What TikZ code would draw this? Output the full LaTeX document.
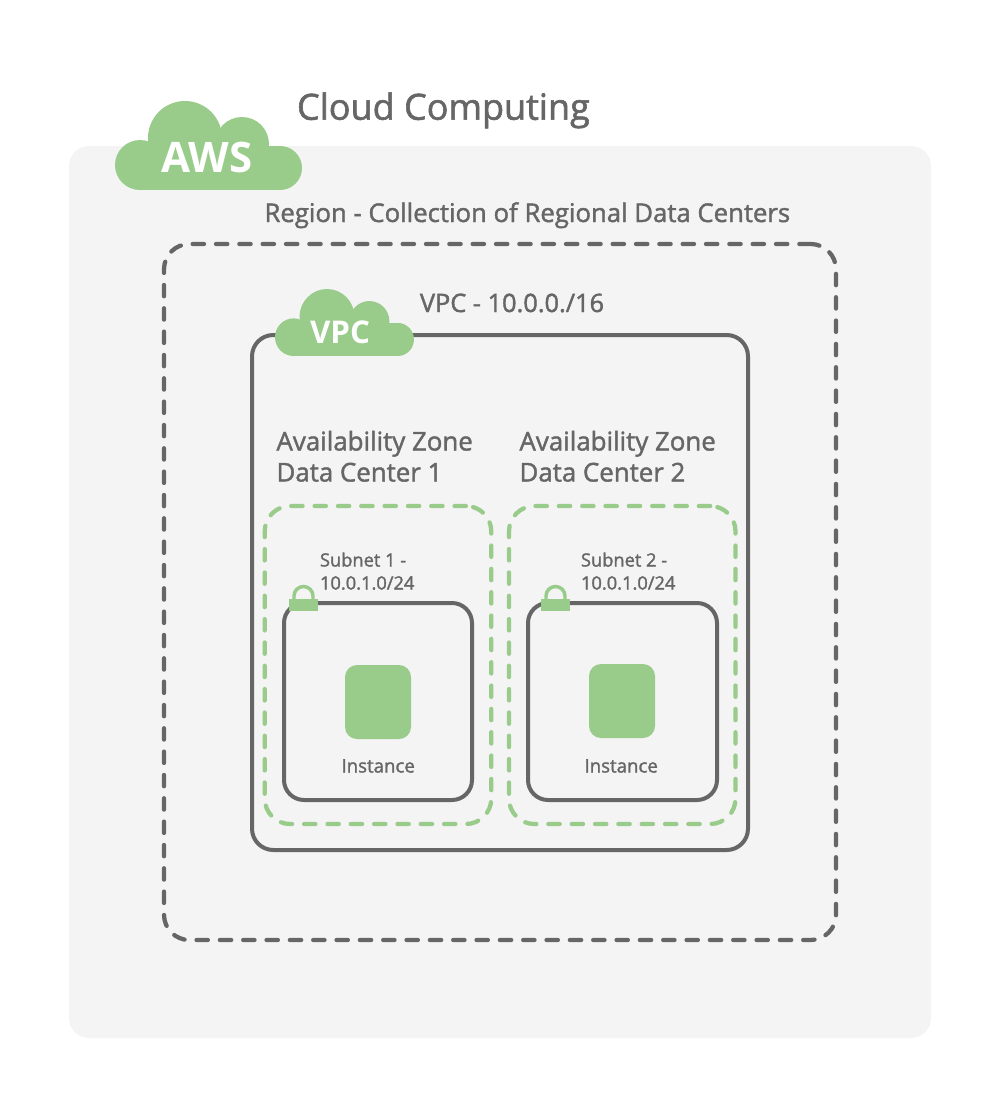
\documentclass[tikz,border=0pt]{standalone}
\usepackage{fontspec}
\setmainfont{Open Sans}[FakeBold=1.6]
\newfontfamily\boldface{Open Sans}
\definecolor{ink}{HTML}{666666}
\definecolor{leaf}{HTML}{99CC8A}
\definecolor{panel}{HTML}{F4F4F4}
\tikzset{
  x=0.75pt,y=-0.75pt,
  boxat/.style args={#1/#2}{rectangle,minimum width=#1*0.75pt,minimum height=#2*0.75pt,inner sep=0pt,outer sep=0pt},
  panelbox/.style={fill=panel,rounded corners=15pt},
  regionbox/.style={draw=ink,line width=3.2pt,rounded corners=19pt,dash pattern=on 8.5pt off 9pt,line cap=round},
  vpcbox/.style={draw=ink,line width=3pt,rounded corners=16pt},
  zonebox/.style={draw=leaf,line width=3.2pt,rounded corners=19pt,dash pattern=on 8.5pt off 9pt,line cap=round},
  subnetbox/.style={draw=ink,line width=3pt,rounded corners=15pt},
  instbox/.style={fill=leaf,rounded corners=9pt},
  lblb/.style={text=ink,inner sep=0pt,outer sep=0pt,anchor=base west,font=\fontsize{#1}{#1}\selectfont},
}
\newcommand{\cloudshape}{%
  \fill[leaf] (140,165) circle (25);
  \fill[leaf] (280,168) circle (22);
  \fill[leaf] (185,138) circle (37);
  \fill[leaf] (242,144) circle (27);
  \fill[leaf] (140,146) rectangle (280,190);
}
\newcommand{\lockshape}[2]{%
  \begin{scope}[shift={(#1,#2)}]
    \draw[leaf,line width=2.6pt] (-9.5,0) -- (-9.5,-3) arc[start angle=180,end angle=360,radius=9.5] -- (9.5,0);
    \fill[leaf] (-14.5,0) rectangle (14.5,12);
  \end{scope}
}
\begin{document}
\begin{tikzpicture}
\useasboundingbox (0,0) rectangle (1000,1107);
\fill[white] (0,0) rectangle (1000,1107);
\node[boxat=862/892,panelbox] (outer) at (500,592) {};
\node[boxat=672/696,regionbox] (region) at (500,592) {};
\node[boxat=496/515,vpcbox] (vpc) at (500,592.5) {};
\node[boxat=226.5/318,zonebox] (zone1) at (378,665) {};
\node[boxat=226.5/318,zonebox] (zone2) at (622.25,665) {};
\node[boxat=188/197,subnetbox] (subnet1) at (378,701.5) {};
\node[boxat=189/197,subnetbox] (subnet2) at (622.5,701.5) {};
\node[boxat=66/74,instbox] (inst1) at (378,702) {};
\node[boxat=66/74,instbox] (inst2) at (622,701) {};
\cloudshape
\begin{scope}[shift={(275,289)},xscale=0.743,yscale=0.753,shift={(-115,-101)}]
  \cloudshape
\end{scope}
\lockshape{303.5}{599}
\lockshape{555.5}{599}
\node[lblb=27] (title) at (297,119.7) {Cloud Computing};
\node[lblb=19.3] (regionlabel) at (264.5,222) {Region - Collection of Regional Data Centers};
\node[lblb=19] (vpclabel) at (420,312) {VPC - 10.0.0./16};
\node[lblb=19.4] (z1a) at (276.5,450.5) {Availability Zone};
\node[lblb=19.4] (z1b) at (276.5,481.5) {Data Center 1};
\node[lblb=19.4] (z2a) at (519.5,450.5) {Availability Zone};
\node[lblb=19.4] (z2b) at (519.5,481.5) {Data Center 2};
\node[lblb=13.7] (s1a) at (320,566.5) {Subnet 1 -};
\node[lblb=13.7] (s1b) at (320,589.5) {10.0.1.0/24};
\node[lblb=13.7] (s2a) at (581,566.5) {Subnet 2 -};
\node[lblb=13.7] (s2b) at (581,589.5) {10.0.1.0/24};
\node[lblb=14] (i1) at (341.5,772.5) {Instance};
\node[lblb=14] (i2) at (584.5,772.5) {Instance};
\node[text=white,inner sep=0pt,anchor=base,font=\boldface\fontsize{31.5}{31.5}\selectfont\bfseries] (aws) at (207,172) {AWS};
\node[text=white,inner sep=0pt,anchor=base,font=\boldface\fontsize{23.5}{23.5}\selectfont\bfseries] (vpccloud) at (340,343) {VPC};
\end{tikzpicture}
\end{document}
